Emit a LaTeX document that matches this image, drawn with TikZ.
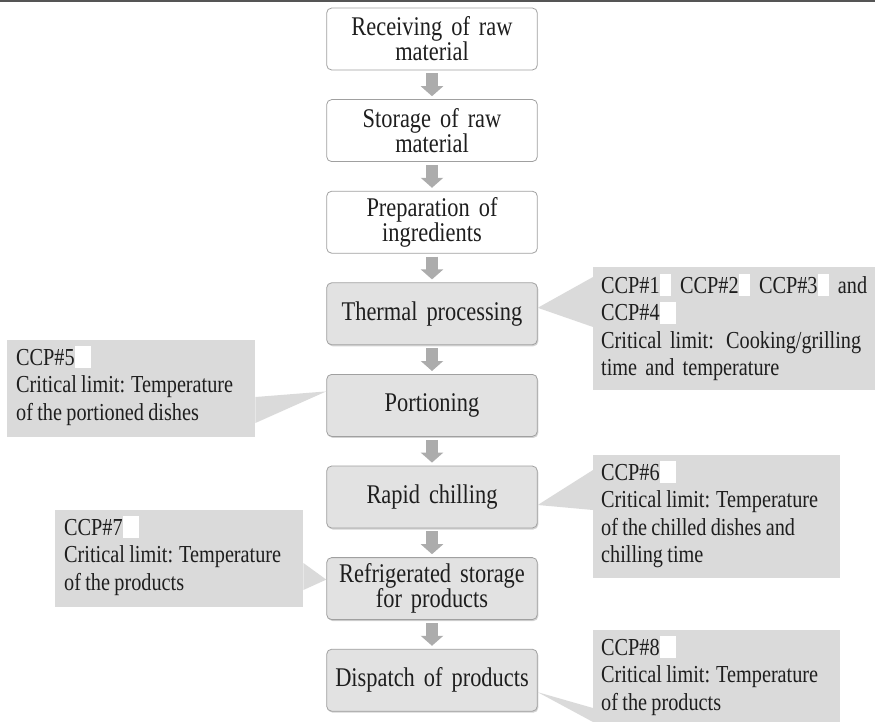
\documentclass[tikz,border=0pt]{standalone}
\usepackage{fontspec}
\setmainfont{Liberation Serif}[FakeStretch=0.83, WordSpace=0.85]
\usetikzlibrary{arrows.meta,
                calc,
                shadows}

\definecolor{linegray}{RGB}{85,85,85}
\definecolor{edgegray}{RGB}{160,160,160}
\definecolor{fillgray}{RGB}{226,226,226}
\definecolor{notegray}{RGB}{218,218,218}
\definecolor{arrowgray}{RGB}{172,172,172}
\definecolor{inkgray}{RGB}{30,30,30}

% white patch after each CCP label
\newcommand{\wb}[1][16pt]{\smash{\textcolor{white}{\rule[-3pt]{#1}{22pt}}}}

\tikzset{
  procbox/.style={draw=edgegray, line width=0.8pt, rounded corners=5pt, fill=white,
                  minimum width=210, minimum height=62, text width=204, align=center,
                  text=inkgray, font=\fontsize{27}{25}\selectfont},
  ccpbox/.style={procbox, fill=fillgray,
                 drop shadow={shadow xshift=1pt, shadow yshift=-1.5pt, opacity=0.35}},
  notebox/.style={fill=notegray, anchor=north west, inner sep=0pt},
  notetext/.style={anchor=north west, inner sep=0pt, align=left, text=inkgray,
                   font=\fontsize{24.4}{27.5}\selectfont},
  flow/.style={line width=12pt, arrowgray, shorten <=3pt, shorten >=3pt,
               -{Triangle[width=22pt, length=10pt]}}
}

\begin{document}
\begin{tikzpicture}[x=1pt, y=-1pt]
\useasboundingbox (0,0) rectangle (875,722);
\fill[linegray] (0,0) rectangle (875,2.5);

% process steps
\node [procbox] (receive) at (432,39) {Receiving of raw\\material};
\node [procbox] (store) at (432,130.6) {Storage of raw\\material};
\node [procbox] (prepare) at (432,222.2) {Preparation of\\ingredients};
\node [ccpbox] (thermal) at (432,313.8) {Thermal processing};
\node [ccpbox] (portion) at (432,405.4) {Portioning};
\node [ccpbox] (chill) at (432,497) {Rapid chilling};
\node [ccpbox] (fridge) at (432,588.6) {Refrigerated storage\\for products};
\node [ccpbox] (dispatch) at (432,680.2) {Dispatch of products};

\draw [flow] (receive) -- (store);
\draw [flow] (store) -- (prepare);
\draw [flow] (prepare) -- (thermal);
\draw [flow] (thermal) -- (portion);
\draw [flow] (portion) -- (chill);
\draw [flow] (chill) -- (fridge);
\draw [flow] (fridge) -- (dispatch);

% critical control points
\node [notebox, minimum width=282, minimum height=123] (ccpA) at (593,267) {};
\fill [notegray] ($(thermal.east)+(0,-6)$) -- ($(ccpA.north west)+(0,10)$) -- ($(ccpA.north west)+(0,60)$) -- cycle;
\node [notetext, text width=266] (noteA) at ($(ccpA.north west)+(8,9)$)
  {\makebox[\linewidth][s]{CCP\#1\wb[11pt]\hfil CCP\#2\wb[11pt]\hfil CCP\#3\wb[11pt]\hfil and}\\
   CCP\#4\wb\\
   Critical limit: Cooking/grilling\\
   time and temperature};

\node [notebox, minimum width=248, minimum height=97] (ccpB) at (7,340) {};
\fill [notegray] ($(portion.west)+(0,-14)$) -- ($(ccpB.north east)+(0,57)$) -- ($(ccpB.north east)+(0,83)$) -- cycle;
\node [notetext] (noteB) at ($(ccpB.north west)+(9,9)$)
  {CCP\#5\wb\\
   Critical limit: Temperature\\
   of the portioned dishes};

\node [notebox, minimum width=247, minimum height=123] (ccpC) at (593,455) {};
\fill [notegray] ($(chill.east)+(0,8)$) -- ($(ccpC.north west)+(0,15)$) -- ($(ccpC.north west)+(0,55)$) -- cycle;
\node [notetext] (noteC) at ($(ccpC.north west)+(8,9)$)
  {CCP\#6\wb\\
   Critical limit: Temperature\\
   of the chilled dishes and\\
   chilling time};

\node [notebox, minimum width=248, minimum height=97] (ccpD) at (55,510) {};
\fill [notegray] ($(fridge.west)+(0,-9)$) -- ($(ccpD.north east)+(0,53)$) -- ($(ccpD.north east)+(0,80)$) -- cycle;
\node [notetext] (noteD) at ($(ccpD.north west)+(9,9)$)
  {CCP\#7\wb\\
   Critical limit: Temperature\\
   of the products};

\node [notebox, minimum width=247, minimum height=92] (ccpE) at (593,630) {};
\fill [notegray] ($(dispatch.east)+(0,12)$) -- ($(ccpE.north west)+(0,78)$) -- ($(ccpE.north west)+(0,92)$) -- cycle;
\node [notetext] (noteE) at ($(ccpE.north west)+(8,9)$)
  {CCP\#8\wb\\
   Critical limit: Temperature\\
   of the products};
\end{tikzpicture}
\end{document}
